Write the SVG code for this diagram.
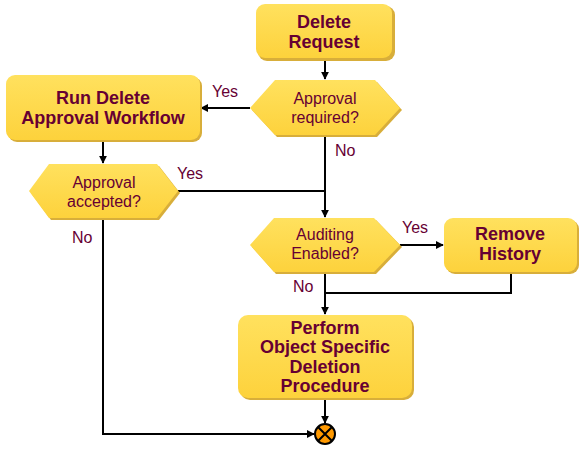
<svg xmlns="http://www.w3.org/2000/svg" width="586" height="454" viewBox="0 0 586 454">
<defs>
<marker id="ah" viewBox="0 0 10 10" refX="9" refY="5" markerWidth="8" markerHeight="8" markerUnits="userSpaceOnUse" orient="auto"><path d="M0,0 L10,5 L0,10 z" fill="#000"/></marker>
<linearGradient id="g" x1="0" y1="0" x2="0" y2="1"><stop offset="0" stop-color="#FFE15E"/><stop offset="1" stop-color="#FDD23C"/></linearGradient>
</defs>
<style>
.box{fill:url(#g);}
.sh{fill:#D8AE3A;}
.t{font-family:"Liberation Sans",Arial,sans-serif;font-size:18px;font-weight:bold;fill:#660033;text-anchor:middle;}
.d{font-family:"Liberation Sans",Arial,sans-serif;font-size:16px;fill:#660033;text-anchor:middle;}
.l{font-family:"Liberation Sans",Arial,sans-serif;font-size:16px;fill:#660033;}
.c{fill:none;stroke:#000;stroke-width:2;}
</style>
<rect width="586" height="454" fill="#fff"/>
<g id="connectors">
<path class="c" d="M325,59 V79" marker-end="url(#ah)"/>
<path class="c" d="M250,108 H201" marker-end="url(#ah)"/>
<path class="c" d="M103,140 V163" marker-end="url(#ah)"/>
<path class="c" d="M325,135 V217" marker-end="url(#ah)"/>
<path class="c" d="M178,191 H325"/>
<path class="c" d="M400,245 H443" marker-end="url(#ah)"/>
<path class="c" d="M511,272 V293 H325"/>
<path class="c" d="M325,272 V314" marker-end="url(#ah)"/>
<path class="c" d="M325,398 V423" marker-end="url(#ah)"/>
<path class="c" d="M103,218 V434 H314" marker-end="url(#ah)"/>
<text class="l" x="212" y="97">Yes</text>
<text class="l" x="335" y="156">No</text>
<text class="l" x="177" y="179">Yes</text>
<text class="l" x="72" y="243">No</text>
<text class="l" x="402" y="233">Yes</text>
<text class="l" x="293" y="292">No</text>
</g>
<g id="delete-request">
<rect class="sh" x="258" y="6" width="137" height="55" rx="9"/>
<rect class="box" x="256" y="4" width="136" height="54" rx="9"/>
<text class="t" x="324" y="28">Delete</text>
<text class="t" x="324" y="48">Request</text>
</g>
<g id="approval-required">
<polygon class="sh" points="277,82 377,82 402,110 377,137 277,137 252,110"/>
<polygon class="box" points="275,80 375,80 400,108 375,135 275,135 250,108"/>
<text class="d" x="325" y="104">Approval</text>
<text class="d" x="325" y="123">required?</text>
</g>
<g id="run-delete">
<rect class="sh" x="8" y="77" width="194" height="65" rx="9"/>
<rect class="box" x="6" y="75" width="194" height="65" rx="9"/>
<text class="t" x="103" y="104">Run Delete</text>
<text class="t" x="103" y="124">Approval Workflow</text>
</g>
<g id="approval-accepted">
<polygon class="sh" points="51,166 159,166 180,193 159,220 51,220 31,193"/>
<polygon class="box" points="49,164 157,164 178,191 157,218 49,218 29,191"/>
<text class="d" x="104" y="188">Approval</text>
<text class="d" x="104" y="207">accepted?</text>
</g>
<g id="auditing-enabled">
<polygon class="sh" points="276,220 376,220 402,247 376,274 276,274 252,247"/>
<polygon class="box" points="274,218 374,218 400,245 374,272 274,272 250,245"/>
<text class="d" x="325" y="240">Auditing</text>
<text class="d" x="325" y="259">Enabled?</text>
</g>
<g id="remove-history">
<rect class="sh" x="446" y="220" width="133" height="54" rx="9"/>
<rect class="box" x="444" y="218" width="133" height="54" rx="9"/>
<text class="t" x="510" y="240">Remove</text>
<text class="t" x="510" y="260">History</text>
</g>
<g id="perform">
<rect class="sh" x="240" y="317" width="174" height="83" rx="10"/>
<rect class="box" x="238" y="315" width="174" height="83" rx="10"/>
<text class="t" x="325" y="334">Perform</text>
<text class="t" x="325" y="353">Object Specific</text>
<text class="t" x="325" y="373">Deletion</text>
<text class="t" x="325" y="392">Procedure</text>
</g>
<g id="end">
<circle cx="325" cy="434" r="10" fill="#FF9900" stroke="#000" stroke-width="2"/>
<path d="M318,427 L332,441 M332,427 L318,441" stroke="#000" stroke-width="2"/>
</g>
</svg>
